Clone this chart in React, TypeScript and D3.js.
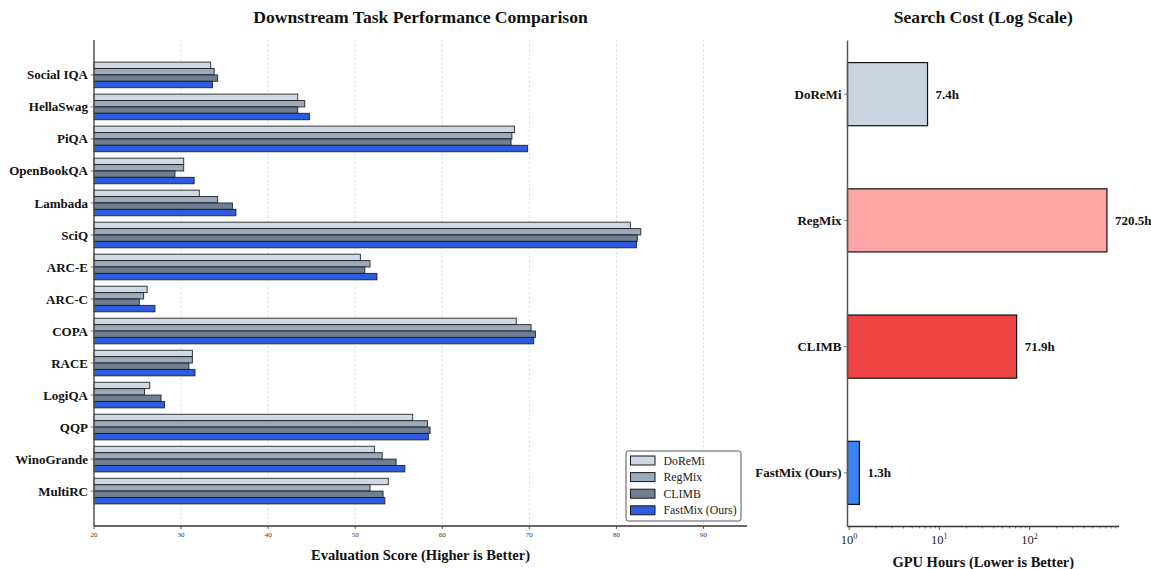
import { useEffect, useRef } from "react"
import * as d3 from "d3"

const tasks = [
  "Social IQA", "HellaSwag", "PiQA", "OpenBookQA", "Lambada", "SciQ", "ARC-E",
  "ARC-C", "COPA", "RACE", "LogiQA", "QQP", "WinoGrande", "MultiRC",
]
const methods = ["DoReMi", "RegMix", "CLIMB", "FastMix (Ours)"]
const doremi = [33.4, 43.4, 68.3, 30.3, 32.1, 81.6, 50.6, 26.1, 68.5, 31.3, 26.4, 56.6, 52.2, 53.8]
const regmix = [33.8, 44.2, 68.0, 30.3, 34.2, 82.8, 51.7, 25.7, 70.2, 31.3, 25.8, 58.3, 53.1, 51.7]
const climb = [34.2, 43.4, 67.9, 29.3, 35.9, 82.4, 51.1, 25.2, 70.7, 30.9, 27.7, 58.6, 54.7, 53.2]
const fastmix = [33.6, 44.75, 69.8, 31.5, 36.3, 82.3, 52.5, 27.0, 70.5, 31.6, 28.1, 58.4, 55.7, 53.4]
const scoreTicks = [20, 30, 40, 50, 60, 70, 80, 90]

const costMethods = ["DoReMi", "RegMix", "CLIMB", "FastMix (Ours)"]
const costHours = [7.4, 720.5, 71.9, 1.3]

const perfColors = ["#cbd5e1", "#94a3b8", "#64748b", "#1d4ed8"]
const costColors = ["#cbd5e1", "#fca5a5", "#ef4444", "#3b82f6"]

const FONT = "'Liberation Serif', 'Times New Roman', serif"

export default function App() {
  const svgRef = useRef<SVGSVGElement>(null)

  useEffect(() => {
    if (!svgRef.current) return
    const svg = d3.select(svgRef.current)
    svg.selectAll("*").remove()
    svg.attr("font-family", FONT)

    // ---------- Left panel: performance ----------
    const L = { left: 94, right: 747, top: 40, bottom: 526 }
    const x = d3.scaleLinear().domain([20, 95]).range([L.left, L.right])
    const y = d3.scaleLinear().domain([-1.09, 14.09]).range([L.top, L.bottom])
    const series = [doremi, regmix, climb, fastmix]
    const offsets = [-0.3, -0.1, 0.1, 0.3]
    const bh = 0.2

    const left = svg.append("g")

    // grid
    left
      .selectAll(".grid")
      .data(scoreTicks)
      .enter()
      .append("line")
      .attr("x1", (d) => x(d))
      .attr("x2", (d) => x(d))
      .attr("y1", L.top)
      .attr("y2", L.bottom)
      .attr("stroke", "#c8c8c8")
      .attr("stroke-width", 0.8)
      .attr("stroke-dasharray", "2.5,2")
      .attr("opacity", 0.7)

    // bars
    series.forEach((vals, si) => {
      left
        .append("g")
        .selectAll("rect")
        .data(vals)
        .enter()
        .append("rect")
        .attr("x", x(20))
        .attr("y", (_, i) => y(i + offsets[si] - bh / 2))
        .attr("width", (d) => x(d) - x(20))
        .attr("height", y(bh) - y(0))
        .attr("fill", perfColors[si])
        .attr("fill-opacity", 0.92)
        .attr("stroke", "#1a1a1a")
        .attr("stroke-opacity", 0.85)
        .attr("stroke-width", 1)
    })

    // spines
    left.append("line").attr("x1", L.left).attr("x2", L.left).attr("y1", L.top).attr("y2", L.bottom)
      .attr("stroke", "#555").attr("stroke-width", 1.5)
    left.append("line").attr("x1", L.left).attr("x2", L.right).attr("y1", L.bottom).attr("y2", L.bottom)
      .attr("stroke", "#333").attr("stroke-width", 1.5)

    // y ticks
    tasks.forEach((t, i) => {
      left.append("line").attr("x1", L.left - 3.5).attr("x2", L.left).attr("y1", y(i)).attr("y2", y(i))
        .attr("stroke", "#555").attr("stroke-width", 0.8)
      left.append("text").attr("x", L.left - 6).attr("y", y(i)).attr("dy", "0.35em")
        .attr("text-anchor", "end").attr("font-size", 13).attr("font-weight", "bold").attr("fill", "#111")
        .text(t)
    })

    // x ticks
    scoreTicks.forEach((t) => {
      left.append("line").attr("x1", x(t)).attr("x2", x(t)).attr("y1", L.bottom).attr("y2", L.bottom + 3)
        .attr("stroke", "#333").attr("stroke-width", 0.8)
      left.append("text").attr("x", x(t)).attr("y", L.bottom + 11).attr("text-anchor", "middle")
        .attr("font-size", 7).attr("fill", "#333").text(t)
    })

    left.append("text").attr("x", (L.left + L.right) / 2).attr("y", 23).attr("text-anchor", "middle")
      .attr("font-size", 17.6).attr("font-weight", "bold").attr("fill", "#111")
      .text("Downstream Task Performance Comparison")
    left.append("text").attr("x", (L.left + L.right) / 2).attr("y", 560).attr("text-anchor", "middle")
      .attr("font-size", 14.6).attr("font-weight", "bold").attr("fill", "#111")
      .text("Evaluation Score (Higher is Better)")

    // legend
    const lg = left.append("g").attr("transform", "translate(626,451)")
    lg.append("rect").attr("width", 115).attr("height", 70).attr("rx", 2.5)
      .attr("fill", "white").attr("fill-opacity", 0.9).attr("stroke", "#555").attr("stroke-width", 1)
    methods.forEach((m, i) => {
      const cy = 9.5 + i * 16.6
      lg.append("rect").attr("x", 4.5).attr("y", cy - 4.5).attr("width", 24.5).attr("height", 9)
        .attr("fill", perfColors[i]).attr("fill-opacity", 0.92).attr("stroke", "#1a1a1a").attr("stroke-width", 1)
      lg.append("text").attr("x", 37.5).attr("y", cy).attr("dy", "0.35em")
        .attr("font-size", 11.8).attr("fill", "#222").text(m)
    })

    // ---------- Right panel: search cost ----------
    const R = { left: 847.5, right: 1119, top: 40.5, bottom: 526.5 }
    const xr = d3.scaleLog().domain([0.96, 980]).range([R.left, R.right])
    const yr = d3.scaleLinear().domain([-0.425, 3.425]).range([R.top, R.bottom])
    const right = svg.append("g")

    right
      .selectAll(".cost")
      .data(costHours)
      .enter()
      .append("rect")
      .attr("x", R.left)
      .attr("y", (_, i) => yr(i - 0.25))
      .attr("width", (d) => xr(d) - R.left)
      .attr("height", yr(0.5) - yr(0))
      .attr("fill", (_, i) => costColors[i])
      .attr("stroke", "#111")
      .attr("stroke-width", 1.2)

    right
      .selectAll(".val")
      .data(costHours)
      .enter()
      .append("text")
      .attr("x", (d) => xr(d) + 8)
      .attr("y", (_, i) => yr(i))
      .attr("dy", "0.35em")
      .attr("font-size", 13)
      .attr("font-weight", "bold")
      .attr("fill", "#111")
      .text((d) => `${d.toFixed(1)}h`)

    right.append("line").attr("x1", R.left).attr("x2", R.left).attr("y1", R.top).attr("y2", R.bottom)
      .attr("stroke", "#555").attr("stroke-width", 1.5)
    right.append("line").attr("x1", R.left).attr("x2", R.right).attr("y1", R.bottom).attr("y2", R.bottom)
      .attr("stroke", "#333").attr("stroke-width", 1.5)

    costMethods.forEach((m, i) => {
      right.append("line").attr("x1", R.left - 3.5).attr("x2", R.left).attr("y1", yr(i)).attr("y2", yr(i))
        .attr("stroke", "#555").attr("stroke-width", 0.8)
      right.append("text").attr("x", R.left - 6).attr("y", yr(i)).attr("dy", "0.35em")
        .attr("text-anchor", "end").attr("font-size", 13).attr("font-weight", "bold").attr("fill", "#111")
        .text(m)
    })

    // log ticks
    const minor: number[] = []
    for (let e = 0; e < 3; e++) for (let k = 2; k <= 9; k++) {
      const v = k * Math.pow(10, e)
      if (v <= 980) minor.push(v)
    }
    minor.forEach((v) => {
      right.append("line").attr("x1", xr(v)).attr("x2", xr(v)).attr("y1", R.bottom).attr("y2", R.bottom + 2)
        .attr("stroke", "#333").attr("stroke-width", 0.6)
    })
    ;[1, 10, 100].forEach((v, e) => {
      right.append("line").attr("x1", xr(v)).attr("x2", xr(v)).attr("y1", R.bottom).attr("y2", R.bottom + 3.5)
        .attr("stroke", "#333").attr("stroke-width", 0.8)
      const t = right.append("text").attr("x", xr(v)).attr("y", R.bottom + 17).attr("text-anchor", "middle")
        .attr("font-size", 12.5).attr("fill", "#222")
      t.append("tspan").text("10")
      t.append("tspan").attr("font-size", 8).attr("dy", -5).text(String(e))
    })

    right.append("text").attr("x", (R.left + R.right) / 2).attr("y", 23).attr("text-anchor", "middle")
      .attr("font-size", 17.6).attr("font-weight", "bold").attr("fill", "#111")
      .text("Search Cost (Log Scale)")
    right.append("text").attr("x", (R.left + R.right) / 2).attr("y", 567).attr("text-anchor", "middle")
      .attr("font-size", 14.5).attr("font-weight", "bold").attr("fill", "#111")
      .text("GPU Hours (Lower is Better)")
  }, [])

  return (
    <svg
      ref={svgRef}
      width={1151}
      height={569}
      style={{ position: "absolute", left: 0, top: 0, background: "white" }}
    />
  )
}
